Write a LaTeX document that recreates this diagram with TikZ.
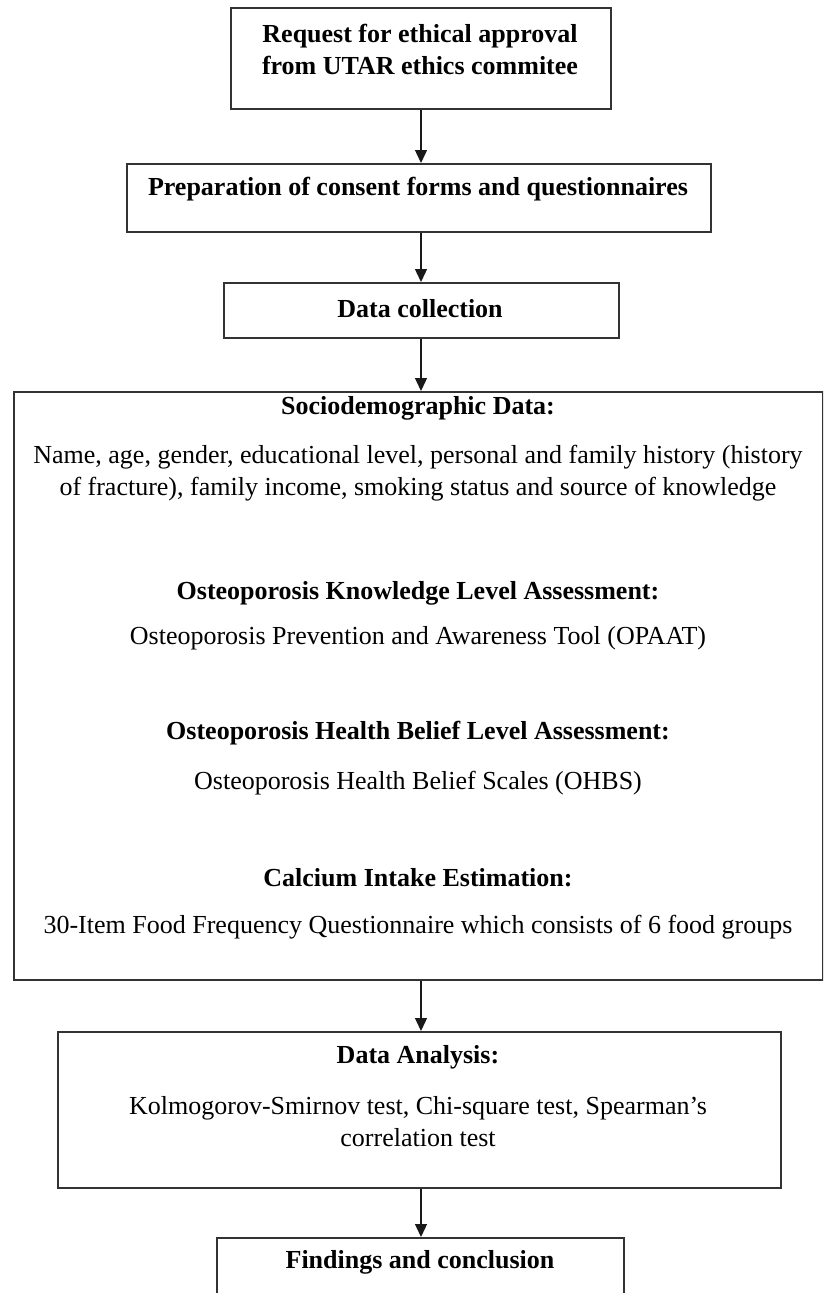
\documentclass[tikz,border=0pt]{standalone}
\usepackage{fontspec}
\setmainfont{Liberation Serif}
\usetikzlibrary{arrows.meta}
\begin{document}
\begin{tikzpicture}[x=1pt,y=-1pt,
  box/.style={draw=black!80, line width=2pt, rectangle, inner sep=0pt, anchor=north west},
  txt/.style={inner sep=0pt, align=center, font=\fontsize{26}{32}\selectfont},
  hd/.style={inner sep=0pt, align=center, font=\fontsize{26}{32}\selectfont\bfseries},
  arr/.style={-{Triangle[length=13pt,width=12pt]}, line width=1.3pt, draw=black!90},
]
\useasboundingbox (0,0) rectangle (823,1293);
\clip (0,0) rectangle (823,1293);
\coordinate (ax) at (421,0);

\node[box, minimum width=380pt, minimum height=101pt] (b1) at (230,7) {};
\node[box, minimum width=584pt, minimum height=68pt] (b2) at (126,163) {};
\node[box, minimum width=395pt, minimum height=55pt] (b3) at (223,282) {};
\node[box, minimum width=809pt, minimum height=588pt] (b4) at (13,391) {};
\node[box, minimum width=723pt, minimum height=156pt] (b5) at (57,1031) {};
\node[box, minimum width=407pt, minimum height=120pt] (b6) at (216,1237) {};

\node[hd] (t1) at (420,49) {Request for ethical approval\\from UTAR ethics commitee};
\node[hd] (t2) at (418,189) {Preparation of consent forms and questionnaires};
\node[hd] (t3) at (420,309) {Data collection};

\node[hd] (s1h) at (418,408) {Sociodemographic Data:};
\node[txt] (s1b) at (418,473) {Name, age, gender, educational level, personal and family history (history\\of fracture), family income, smoking status and source of knowledge};
\node[hd] (s2h) at (418,593) {Osteoporosis Knowledge Level Assessment:};
\node[txt] (s2b) at (418,638) {Osteoporosis Prevention and Awareness Tool (OPAAT)};
\node[hd] (s3h) at (418,733) {Osteoporosis Health Belief Level Assessment:};
\node[txt] (s3b) at (418,783) {Osteoporosis Health Belief Scales (OHBS)};
\node[hd] (s4h) at (418,878) {Calcium Intake Estimation:};
\node[txt] (s4b) at (418,927) {30-Item Food Frequency Questionnaire which consists of 6 food groups};

\node[hd] (t5h) at (418,1057) {Data Analysis:};
\node[txt] (t5b) at (418,1122) {Kolmogorov-Smirnov test, Chi-square test, Spearman’s\\correlation test};
\node[hd] (t6) at (420,1262) {Findings and conclusion};

\draw[arr] (b1.south -| ax) -- (b2.north -| ax);
\draw[arr] (b2.south -| ax) -- (b3.north -| ax);
\draw[arr] (b3.south -| ax) -- (b4.north -| ax);
\draw[arr] (b4.south -| ax) -- (b5.north -| ax);
\draw[arr] (b5.south -| ax) -- (b6.north -| ax);
\end{tikzpicture}
\end{document}
